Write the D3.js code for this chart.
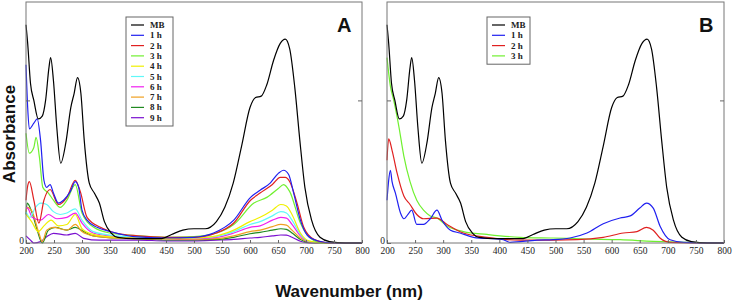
<!DOCTYPE html>
<html>
<head>
<meta charset="utf-8">
<script src="https://cdn.jsdelivr.net/npm/d3@7/dist/d3.min.js"></script>
<style>
  body { margin: 0; background: #fff; }
  svg { display: block; }
  .tick text { font-family: "Liberation Serif", serif; font-size: 9.5px; fill: #222; }
  .tick line { stroke: #666; }
  .legend text { font-family: "Liberation Serif", serif; font-size: 9px; font-weight: bold; fill: #222; }
</style>
</head>
<body>
<div id="chart"></div>
<script>
// x ticks (nm)
var xTicks = [200, 250, 300, 350, 400, 450, 500, 550, 600, 650, 700, 750, 800];

// MB spectrum (same in both panels)
var mb = [[200,1.53],[203,1.40],[208,1.12],[214,1.00],[222,0.87],[229,0.89],[235,1.00],[241,1.23],[244,1.30],
  [249,1.14],[255,0.81],[262,0.56],[271,0.70],[280,0.95],[286,1.05],[292,1.16],[298,1.05],[304,0.72],
  [313,0.42],[322,0.35],[331,0.28],[340,0.15],[352,0.07],[364,0.04],[393,0.03],[440,0.03],[460,0.06],
  [480,0.09],[500,0.10],[520,0.10],[540,0.15],[555,0.25],[570,0.42],[585,0.68],[600,0.95],[610,1.02],
  [620,1.03],[630,1.11],[642,1.28],[654,1.40],[663,1.43],[671,1.36],[680,1.09],[689,0.72],[698,0.39],
  [710,0.16],[725,0.04],[742,0.01],[770,0.0],[800,0.0]];

// panel A
var a1h = [[200,1.25],[203,0.95],[206,0.80],[214,0.84],[220,0.87],[226,0.72],[232,0.44],[237,0.39],[243,0.41],
  [249,0.35],[258,0.28],[267,0.30],[279,0.36],[288,0.43],[294,0.39],[300,0.23],[309,0.16],[327,0.11],
  [351,0.08],[392,0.045],[452,0.035],[499,0.04],[535,0.07],[571,0.16],[601,0.32],[618,0.37],[636,0.42],
  [651,0.49],[660,0.51],[669,0.48],[678,0.35],[690,0.16],[702,0.056],[720,0.016],[750,0.0],[800,0.0]];
var a2h = [[200,0.30],[203,0.40],[206,0.43],[214,0.30],[223,0.14],[232,0.30],[243,0.375],[258,0.27],[273,0.32],
  [288,0.44],[297,0.36],[309,0.18],[333,0.11],[360,0.07],[400,0.05],[450,0.04],[500,0.04],[540,0.07],
  [571,0.14],[601,0.30],[618,0.35],[640,0.41],[654,0.46],[663,0.46],[671,0.43],[684,0.28],[696,0.11],
  [714,0.026],[740,0.0],[800,0.0]];
var a3h = [[200,0.77],[206,0.63],[214,0.67],[218,0.74],[224,0.60],[230,0.39],[240,0.35],[249,0.30],[261,0.25],
  [273,0.30],[288,0.41],[300,0.21],[321,0.11],[350,0.07],[400,0.05],[450,0.04],[500,0.045],[540,0.07],
  [571,0.13],[607,0.28],[630,0.32],[650,0.38],[660,0.41],[671,0.36],[690,0.14],[708,0.033],[730,0.0],[800,0.0]];
var a4h = [[200,0.20],[210,0.15],[222,0.08],[232,0.12],[245,0.16],[258,0.12],[273,0.13],[288,0.20],[300,0.10],
  [320,0.06],[360,0.04],[400,0.035],[450,0.03],[500,0.035],[540,0.05],[571,0.09],[600,0.15],[618,0.18],
  [640,0.23],[655,0.27],[665,0.26],[675,0.20],[690,0.07],[705,0.015],[730,0.0],[800,0.0]];
var a5h = [[200,0.22],[207,0.18],[217,0.25],[226,0.28],[237,0.27],[249,0.22],[261,0.20],[273,0.21],[288,0.24],
  [300,0.16],[320,0.08],[360,0.05],[400,0.04],[450,0.03],[500,0.035],[540,0.045],[571,0.08],[600,0.13],
  [618,0.15],[640,0.19],[655,0.22],[665,0.21],[675,0.16],[690,0.06],[705,0.012],[730,0.0],[800,0.0]];
var a6h = [[200,0.25],[204,0.24],[211,0.18],[226,0.16],[240,0.20],[255,0.17],[273,0.18],[288,0.21],[300,0.14],
  [320,0.07],[360,0.045],[400,0.035],[450,0.03],[500,0.03],[540,0.04],[571,0.07],[600,0.11],[618,0.12],
  [640,0.16],[655,0.18],[665,0.175],[675,0.13],[690,0.05],[705,0.01],[730,0.0],[800,0.0]];
var a7h = [[200,0.22],[202,0.25],[211,0.22],[223,0.07],[229,0.01],[237,0.09],[249,0.11],[273,0.09],[288,0.13],
  [300,0.08],[320,0.05],[360,0.035],[400,0.03],[450,0.025],[500,0.025],[540,0.03],[571,0.05],[600,0.08],
  [618,0.09],[640,0.115],[655,0.13],[665,0.125],[675,0.09],[690,0.035],[705,0.008],[730,0.0],[800,0.0]];
var a8h = [[200,0.20],[202,0.28],[211,0.21],[220,0.09],[229,0.0],[240,0.09],[252,0.11],[273,0.09],[288,0.11],
  [303,0.08],[320,0.05],[360,0.035],[400,0.03],[450,0.022],[500,0.022],[540,0.025],[571,0.04],[600,0.065],
  [618,0.075],[640,0.09],[655,0.10],[665,0.095],[675,0.07],[690,0.025],[705,0.005],[730,0.0],[800,0.0]];
var a9h = [[200,0.05],[208,0.02],[214,0.0],[226,0.01],[237,0.044],[249,0.068],[273,0.056],[288,0.068],
  [303,0.033],[331,0.02],[360,0.02],[400,0.02],[450,0.015],[500,0.015],[540,0.02],[571,0.025],[600,0.035],
  [618,0.04],[640,0.05],[655,0.056],[665,0.055],[675,0.04],[690,0.012],[705,0.0],[800,0.0]];

// panel B
var b1h = [[200,0.30],[203,0.44],[206,0.51],[209,0.43],[215,0.35],[224,0.21],[230,0.17],[239,0.21],[244,0.23],
  [253,0.13],[265,0.13],[277,0.17],[289,0.23],[298,0.16],[313,0.09],[330,0.07],[354,0.04],[407,0.023],
  [419,0.005],[467,0.02],[496,0.023],[526,0.035],[556,0.07],[585,0.135],[615,0.175],[633,0.19],[650,0.245],
  [662,0.28],[674,0.245],[686,0.12],[704,0.023],[728,0.005],[800,0.0]];
var b2h = [[200,0.58],[203,0.73],[209,0.65],[218,0.49],[230,0.33],[241,0.27],[253,0.20],[265,0.17],[289,0.175],
  [307,0.13],[336,0.07],[378,0.04],[437,0.02],[496,0.02],[538,0.023],[585,0.04],[621,0.07],[645,0.08],
  [662,0.11],[674,0.09],[686,0.035],[704,0.005],[800,0.0]];
var b3h = [[200,1.30],[206,1.10],[212,1.00],[221,0.82],[230,0.61],[241,0.43],[253,0.30],[265,0.23],[277,0.19],
  [289,0.175],[307,0.12],[336,0.08],[378,0.06],[437,0.04],[496,0.035],[556,0.028],[615,0.023],[674,0.012],
  [734,0.005],[800,0.0]];

var labelsA = ['MB', '1 h', '2 h', '3 h', '4 h', '5 h', '6 h', '7 h', '8 h', '9 h'];
var labelsB = ['MB', '1 h', '2 h', '3 h'];
var colors = ['#000000', '#2020f0', '#e02020', '#70f030', '#f0f000', '#60f8f8', '#f020f0', '#f0a020', '#208a20', '#7a10d0'];

var seriesA = [mb, a1h, a2h, a3h, a4h, a5h, a6h, a7h, a8h, a9h];
var seriesB = [mb, b1h, b2h, b3h];

var width = 733, height = 303;
var svg = d3.select('#chart').append('svg')
  .attr('width', width)
  .attr('height', height);

function panel(left, right, top, bottom, series, labels, letter, legendX, legendW) {
  var x = d3.scaleLinear().domain([200, 800]).range([left, right]);
  var y = d3.scaleLinear().domain([0, 1.69]).range([bottom, top]);

  var g = svg.append('g');

  var line = d3.line()
    .x(d => x(d[0]))
    .y(d => y(d[1]))
    .curve(d3.curveMonotoneX);

  // draw last series first so MB sits on top
  for (var i = series.length - 1; i >= 0; i--) {
    g.append('path')
      .datum(series[i])
      .attr('fill', 'none')
      .attr('stroke', colors[i])
      .attr('stroke-width', 1.2)
      .attr('d', line);
  }

  // frame
  g.append('rect')
    .attr('x', left).attr('y', top)
    .attr('width', right - left).attr('height', bottom - top)
    .attr('fill', 'none')
    .attr('stroke', '#777')
    .attr('stroke-width', 1);

  var xAxis = d3.axisBottom(x).tickValues(xTicks).tickSizeInner(-3).tickSizeOuter(0).tickPadding(4);
  g.append('g')
    .attr('transform', 'translate(0,' + bottom + ')')
    .call(xAxis)
    .call(s => s.select('.domain').remove());

  var yAxis = d3.axisLeft(y).tickValues([0, 1]).tickSizeInner(-4).tickSizeOuter(0).tickPadding(2)
    .tickFormat(d => d === 0 ? '0' : '');
  g.append('g')
    .attr('transform', 'translate(' + left + ',0)')
    .call(yAxis)
    .call(s => s.select('.domain').remove())
    .call(s => s.selectAll('.tick text').attr('dy', '0.1em'));

  var yAxisR = d3.axisRight(y).tickValues([1]).tickSizeInner(-4).tickSizeOuter(0).tickFormat('');
  g.append('g')
    .attr('transform', 'translate(' + right + ',0)')
    .call(yAxisR)
    .call(s => s.select('.domain').remove());

  // legend
  var lg = g.append('g').attr('class', 'legend');
  lg.append('rect')
    .attr('x', legendX).attr('y', 17)
    .attr('width', legendW).attr('height', labels.length * 10.3 + 6)
    .attr('fill', '#fff')
    .attr('stroke', '#666')
    .attr('stroke-width', 1);
  labels.forEach(function(l, i) {
    var yy = 25 + i * 10.3;
    lg.append('line')
      .attr('x1', legendX + 5).attr('x2', legendX + 18)
      .attr('y1', yy).attr('y2', yy)
      .attr('stroke', colors[i]).attr('stroke-width', 1.2);
    lg.append('text')
      .attr('x', legendX + 24).attr('y', yy + 3)
      .text(l);
  });

  g.append('text')
    .attr('x', right - 25).attr('y', 32)
    .attr('font-family', 'Liberation Sans, Arial, sans-serif')
    .attr('font-weight', 'bold')
    .attr('font-size', 20)
    .attr('fill', '#111')
    .text(letter);
}

panel(26, 362, 2, 243, seriesA, labelsA, 'A', 126, 47);
panel(387, 724, 2, 243, seriesB, labelsB, 'B', 487, 43);

svg.append('text')
  .attr('transform', 'translate(15,134) rotate(-90)')
  .attr('text-anchor', 'middle')
  .attr('font-family', 'Liberation Sans, Arial, sans-serif')
  .attr('font-weight', 'bold')
  .attr('font-size', 17)
  .attr('fill', '#111')
  .text('Absorbance');

svg.append('text')
  .attr('x', 349).attr('y', 297)
  .attr('text-anchor', 'middle')
  .attr('font-family', 'Liberation Sans, Arial, sans-serif')
  .attr('font-weight', 'bold')
  .attr('font-size', 17)
  .attr('fill', '#111')
  .text('Wavenumber (nm)');
</script>
</body>
</html>
